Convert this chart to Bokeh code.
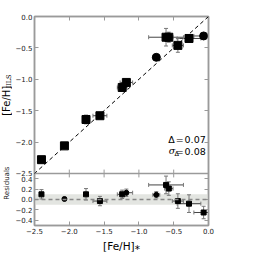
import math
from bokeh.plotting import figure
from bokeh.layouts import row
from bokeh.models import (Range1d, LinearAxis, FixedTicker, Whisker, ColumnDataSource,
                          Label, Span, TeeHead, Slope)
from bokeh.embed import file_html
from bokeh.resources import INLINE

# ---------------- data ----------------
feh_star = [-2.40, -2.07, -1.76, -1.56, -1.24, -1.18, -0.75, -0.61, -0.57, -0.44, -0.28, -0.07]
feh_iils = [-2.28, -2.06, -1.64, -1.58, -1.13, -1.05, -0.65, -0.33, -0.33, -0.46, -0.35, -0.31]
xerr = [0.02, 0.02, 0.03, 0.10, 0.07, 0.09, 0.05, 0.25, 0.06, 0.08, 0.17, 0.14]
yerr_top = [0.03, 0.02, 0.07, 0.03, 0.06, 0.04, 0.03, 0.14, 0.08, 0.11, 0.03, 0.04]
residual = [0.10, 0.01, 0.10, -0.03, 0.10, 0.13, 0.09, 0.28, 0.21, -0.03, -0.08, -0.25]
yerr_res = [0.09, 0.03, 0.11, 0.09, 0.08, 0.07, 0.06, 0.17, 0.13, 0.14, 0.17, 0.12]
marker_top = ["square"] * 6 + ["circle"] + ["square"] * 4 + ["circle"]
marker_res = ["square", "circle", "square", "square", "square", "circle", "circle",
              "square", "square", "square", "square", "square"]
band_half = 0.10
delta_text = "0.07"
sigma_text = "0.08"

x_ticks = [-2.5, -2.0, -1.5, -1.0, -0.5, 0.0]
top_ticks = [-2.5, -2.0, -1.5, -1.0, -0.5, 0.0]
res_ticks = [-0.4, -0.2, 0.0, 0.2, 0.4]

# ---------------- layout ----------------
WL = 12                     # left strip holding the y labels
BL, BR, BT, BB = 19, 20, 16, 25
FW = 177
TOP_PX, RES_PX = 160, 53
FH = TOP_PX + RES_PX
H = BT + FH + BB

x_lo, x_hi = -2.5, 0.0
top_lo, top_hi = -2.5, 0.0
res_lo, res_hi = -0.5, 0.5

upx = TOP_PX / (top_hi - top_lo)
main_start = top_lo - RES_PX / upx
rpx = RES_PX / (res_hi - res_lo)
res_end = res_hi + TOP_PX / rpx


def res_to_main(r):
    return main_start + (r - res_lo) * rpx / upx


def fmt(v):
    s = f"{v:.1f}"
    if s == "-0.0":
        s = "0.0"
    return s.replace("-", "\u2212")


GRAY = "#9a9a9a"
FONT = "DejaVu Sans"

p = figure(width=BL + FW + BR, height=H,
           x_range=Range1d(x_lo, x_hi), y_range=Range1d(main_start, top_hi),
           output_backend="svg", toolbar_location=None,
           min_border_left=BL, min_border_right=BR, min_border_top=BT, min_border_bottom=BB)
p.extra_y_ranges = {"res": Range1d(res_lo, res_end)}
p.xgrid.grid_line_color = None
p.ygrid.grid_line_color = None
p.outline_line_color = GRAY
p.outline_line_width = 1.5
p.background_fill_color = "white"
p.border_fill_color = "white"

left_ticks = top_ticks + [res_to_main(r) for r in res_ticks]
left_over = {t: fmt(t) for t in top_ticks}
left_over.update({res_to_main(r): fmt(r) for r in res_ticks})


def style_axis(ax, labels=True):
    ax.axis_line_color = GRAY
    ax.axis_line_width = 1.5
    ax.major_tick_line_color = GRAY
    ax.major_tick_in = 4
    ax.major_tick_out = 0
    ax.minor_tick_in = 0
    ax.minor_tick_out = 0
    ax.major_label_text_font = FONT
    ax.major_label_text_font_size = "7px"
    ax.major_label_text_color = "#222222"
    if not labels:
        ax.major_label_text_font_size = "0px"
        ax.major_label_text_alpha = 0


yax = p.yaxis[0]
yax.ticker = FixedTicker(ticks=left_ticks, minor_ticks=[])
yax.major_label_overrides = left_over
yax.major_label_standoff = 2
style_axis(yax)

xax = p.xaxis[0]
xax.ticker = FixedTicker(ticks=x_ticks, minor_ticks=[])
xax.major_label_overrides = {t: fmt(t) for t in x_ticks}
xax.major_label_standoff = 2
style_axis(xax)
xax.axis_label = "[Fe/H]\u204e"
xax.axis_label_text_font = FONT
xax.axis_label_text_font_size = "10.5px"
xax.axis_label_text_font_style = "normal"
xax.axis_label_text_color = "black"
xax.axis_label_standoff = 3

rax = LinearAxis(ticker=FixedTicker(ticks=left_ticks, minor_ticks=[]))
style_axis(rax, labels=False)
p.add_layout(rax, "right")
tax = LinearAxis(ticker=FixedTicker(ticks=x_ticks, minor_ticks=[]))
style_axis(tax, labels=False)
p.add_layout(tax, "above")

# residual band and zero line
p.quad(left=x_lo, right=x_hi, bottom=-band_half, top=band_half, y_range_name="res",
       fill_color="#e3e5e1", line_color=None, level="underlay")
p.add_layout(Span(location=0.0, dimension="width", y_range_name="res",
                  line_color="#888888", line_dash="4 3", line_width=1.5))

# 1:1 line
p.add_layout(Slope(gradient=1, y_intercept=0, line_color="black", line_dash="4 3", line_width=1))

# divider between panels
p.add_layout(Span(location=top_lo, dimension="width", line_color=GRAY, line_width=1.5))
inner = [t for t in x_ticks if x_lo < t < x_hi]
tl = 4 / upx
p.segment(x0=inner, y0=[top_lo - tl] * len(inner), x1=inner, y1=[top_lo + tl] * len(inner),
          line_color=GRAY, line_width=1)

# ---- sources ----
src_top = ColumnDataSource(dict(
    x=feh_star, y=feh_iils, m=marker_top,
    xl=[a - e for a, e in zip(feh_star, xerr)], xh=[a + e for a, e in zip(feh_star, xerr)],
    yl=[a - e for a, e in zip(feh_iils, yerr_top)], yh=[a + e for a, e in zip(feh_iils, yerr_top)]))
src_res = ColumnDataSource(dict(
    x=feh_star, y=residual, m=marker_res,
    xl=[a - e for a, e in zip(feh_star, xerr)], xh=[a + e for a, e in zip(feh_star, xerr)],
    yl=[a - e for a, e in zip(residual, yerr_res)], yh=[a + e for a, e in zip(residual, yerr_res)]))


def whiskers(src, rname):
    kw = {} if rname is None else {"y_range_name": rname}
    p.add_layout(Whisker(source=src, base="y", lower="xl", upper="xh", dimension="width",
                         line_color="#444444", line_width=1, level="underlay",
                         upper_head=TeeHead(size=4, line_color="#777777"),
                         lower_head=TeeHead(size=4, line_color="#777777"), **kw))
    p.add_layout(Whisker(source=src, base="x", lower="yl", upper="yh", dimension="height",
                         line_color="#777777", line_width=1, level="underlay",
                         upper_head=TeeHead(size=4, line_color="#777777"),
                         lower_head=TeeHead(size=4, line_color="#777777"), **kw))


whiskers(src_top, None)
whiskers(src_res, "res")

p.scatter("x", "y", marker="m", source=src_top, size=8, color="black")
p.scatter("x", "y", marker="m", source=src_res, size=5, color="black", y_range_name="res")

# ---- statistics text (positions in top-panel data units) ----
TX = -0.04
p.add_layout(Label(x=TX, y=-1.96, text="\u0394\u200a=\u200a" + delta_text,
                   text_align="right", text_baseline="middle",
                   text_font=FONT, text_font_size="9.5px", text_color="black"))
p.add_layout(Label(x=TX, y=-2.145, text="=\u200a" + sigma_text,
                   text_align="right", text_baseline="middle",
                   text_font=FONT, text_font_size="9.5px", text_color="black"))
p.add_layout(Label(x=-0.525, y=-2.13, text="\u03c3",
                   text_align="center", text_baseline="middle", text_font_style="italic",
                   text_font="DejaVu Serif", text_font_size="9.5px", text_color="black"))
p.add_layout(Label(x=-0.455, y=-2.19, text="\u0394",
                   text_align="center", text_baseline="middle",
                   text_font=FONT, text_font_size="6.5px", text_color="black"))

# ---- left strip with the y-axis titles (pixel coordinates) ----
lf = figure(width=WL, height=H, x_range=Range1d(0, WL), y_range=Range1d(H, 0),
            output_backend="svg", toolbar_location=None, min_border=0,
            x_axis_location=None, y_axis_location=None)
lf.outline_line_color = None
lf.xgrid.grid_line_color = None
lf.ygrid.grid_line_color = None
lf.background_fill_color = "white"
lf.border_fill_color = "white"

frame_top = BT
ylab_c = frame_top + 0.54 * TOP_PX
lf.add_layout(Label(x=6.2, y=ylab_c, text="[Fe/H]", angle=math.pi / 2,
                    text_align="center", text_baseline="middle",
                    text_font=FONT, text_font_size="10px", text_color="black"))
lf.add_layout(Label(x=8.3, y=ylab_c - 23.5, text="IILS", angle=math.pi / 2,
                    text_align="center", text_baseline="middle",
                    text_font="DejaVu Serif", text_font_size="6.5px", text_color="black"))
lf.add_layout(Label(x=6.5, y=frame_top + TOP_PX + RES_PX / 2, text="Residuals", angle=math.pi / 2,
                    text_align="center", text_baseline="middle",
                    text_font=FONT, text_font_size="7px", text_color="#222222"))

layout = row(lf, p, spacing=0)
open("out.html", "w").write(file_html(layout, INLINE))
